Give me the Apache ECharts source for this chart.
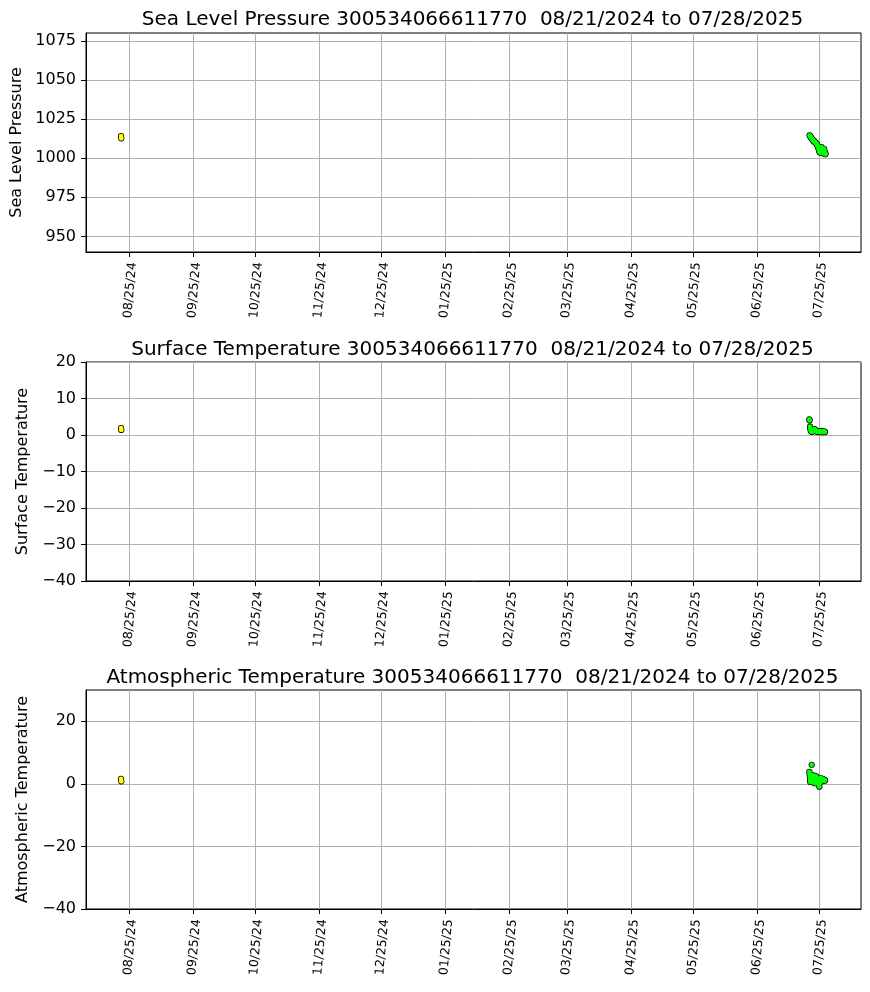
<!DOCTYPE html>
<html><head><meta charset="utf-8">
<script src="https://cdn.jsdelivr.net/npm/echarts@6/dist/echarts.min.js"></script>
<style>html,body{margin:0;padding:0;background:#fff}#c{width:870px;height:992px}</style>
</head><body><div id="c"></div>
<script>
const buoyId = '300534066611770';
const dateRange = '08/21/2024 to 07/28/2025';
const plotNames = ['Sea Level Pressure', 'Surface Temperature', 'Atmospheric Temperature'];
const xTickDates = ['2024-08-25','2024-09-25','2024-10-25','2024-11-25','2024-12-25','2025-01-25','2025-02-25','2025-03-25','2025-04-25','2025-05-25','2025-06-25','2025-07-25'];
const xRange = ['2024-08-04T01:00:00Z', '2025-08-14T04:00:00Z'];

const pressureTicks = [950, 975, 1000, 1025, 1050, 1075];
const surfaceTicks = [-40, -30, -20, -10, 0, 10, 20];
const atmTicks = [-40, -20, 0, 20];
const pressureRange = [940, 1080];
const surfaceRange = [-40, 20];
const atmRange = [-40, 30];

// first fix (yellow), 21 Aug 2024
const firstTimes = ['2024-08-21T00:00:00Z', '2024-08-21T03:00:00Z'];
const firstPressure = [1014.1, 1012.7];
const firstSurface = [1.9, 1.4];
const firstAtm = [1.6, 0.8];

// July 2025 fixes (green), day-of-month
const pressureDays = [20.25,20.5,20.75,21.0,21.25,21.5,21.75,22.0,22.25,22.5,22.75,23.0,23.25,23.5,23.75,24.0,24.25,24.5,24.75,25.0,25.125,25.25,25.375,25.5,25.625,25.75,25.875,26.0,26.125,26.25,26.375,26.5,26.625,26.75,26.875,27.0,27.125,27.25,27.375,27.5,27.625,27.75,27.875,28.0];
const pressureVals = [1014.6,1014.1,1013.6,1013.1,1012.6,1012.1,1011.7,1011.3,1011.0,1010.7,1010.4,1010.1,1009.8,1009.5,1009.0,1008.4,1007.6,1006.6,1005.6,1004.6,1004.0,1003.6,1003.9,1004.4,1005.2,1006.0,1006.6,1007.0,1006.4,1005.6,1004.8,1004.0,1003.4,1003.2,1003.8,1004.6,1005.4,1006.0,1005.3,1004.4,1003.4,1002.8,1002.5,1002.9];

const surfaceDays = [20.15,20.3,20.5,20.6,20.75,21.0,21.25,21.5,21.75,22.0,22.25,22.5,22.75,23.0,23.25,23.5,23.75,24.0,24.25,24.5,24.75,25.0,25.25,25.5,25.75,26.0,26.25,26.5,26.75,27.0,27.25,27.5,27.75];
const surfaceVals = [4.3,4.0,2.3,1.9,1.4,1.0,0.9,0.9,1.0,1.1,1.3,1.5,1.6,1.4,1.2,1.1,1.0,0.9,0.9,1.0,1.0,0.9,0.8,0.8,0.9,1.0,1.0,0.9,0.8,0.8,0.9,0.9,0.8];

const atmDays = [20.2,20.3,20.4,20.5,20.6,20.75,21.0,21.25,21.3,21.5,21.75,22.0,22.25,22.5,22.75,23.0,23.25,23.5,23.75,24.0,24.25,24.5,24.75,25.0,25.25,25.5,25.75,26.0,26.25,26.5,26.75,27.0,27.25,27.5,27.75];
const atmVals = [3.8,3.0,2.2,1.3,0.6,2.4,1.6,2.8,6.1,1.0,2.2,0.4,1.8,2.6,1.2,0.2,1.9,2.4,1.4,0.6,1.7,0.8,-0.4,-0.9,0.3,1.4,1.8,1.1,0.9,1.6,1.5,1.2,1.0,1.3,1.1];

const FONT = 'DejaVu Sans';
const DAY = 86400000;
const july0 = Date.UTC(2025, 6, 0);
const toTs = s => Date.parse(s);
const xTicks = xTickDates.map(s => Date.parse(s + 'T00:00:00Z'));
const fmtDate = v => { const d = new Date(v); const p = n => String(n).padStart(2, '0'); return p(d.getUTCMonth() + 1) + '/' + p(d.getUTCDate()) + '/' + p(d.getUTCFullYear() % 100); };
const fmtNum = v => v < 0 ? '\u2212' + Math.abs(v) : String(v);

const tops = [33, 362, 690];
const titleTops = [5, 335, 663];
const nameGaps = [58, 46, 46];
const yTicks = [pressureTicks, surfaceTicks, atmTicks];
const yRanges = [pressureRange, surfaceRange, atmRange];
const greenSets = [[pressureDays, pressureVals], [surfaceDays, surfaceVals], [atmDays, atmVals]];
const yellowSets = [firstPressure, firstSurface, firstAtm];

function markerPair(i, data, fill) {
  return [
    {type: 'scatter', xAxisIndex: i, yAxisIndex: i, symbolSize: 6.2, silent: true,
      itemStyle: {color: '#000', opacity: 1}, data},
    {type: 'scatter', xAxisIndex: i, yAxisIndex: i, symbolSize: 4.8, silent: true,
      itemStyle: {color: fill, opacity: 1}, data}
  ];
}

const grid = [], xAxis = [], yAxis = [], series = [], title = [];
for (let i = 0; i < 3; i++) {
  grid.push({left: 86, top: tops[i], width: 775, height: 219, show: true, borderColor: '#000', borderWidth: 1, outerBoundsMode: 'none'});
  title.push({text: plotNames[i] + ' ' + buoyId + '  ' + dateRange, left: 467.5, top: titleTops[i], textAlign: 'center',
    textStyle: {fontFamily: FONT, fontSize: 20, fontWeight: 'normal', color: '#000'}});
  xAxis.push({type: 'value', gridIndex: i, min: toTs(xRange[0]), max: toTs(xRange[1]),
    axisLine: {show: true, onZero: false, lineStyle: {color: '#000', width: 1}},
    axisTick: {show: true, length: 5, customValues: xTicks, lineStyle: {color: '#000'}},
    axisLabel: {customValues: xTicks, formatter: fmtDate, rotate: 85, margin: 10, fontFamily: FONT, fontSize: 12.5, color: '#000',
      verticalAlign: 'top', lineHeight: 7},
    splitLine: {show: true, lineStyle: {color: '#b0b0b0', width: 1}}});
  yAxis.push({type: 'value', gridIndex: i, min: yRanges[i][0], max: yRanges[i][1],
    name: plotNames[i], nameLocation: 'middle', nameGap: nameGaps[i],
    nameTextStyle: {fontFamily: FONT, fontSize: 16, color: '#000'},
    axisLine: {show: true, onZero: false, lineStyle: {color: '#000', width: 1}},
    axisTick: {show: true, length: 5, customValues: yTicks[i], lineStyle: {color: '#000'}},
    axisLabel: {customValues: yTicks[i], formatter: fmtNum, margin: 10, fontFamily: FONT, fontSize: 16, color: '#000'},
    splitLine: {show: true, lineStyle: {color: '#b0b0b0', width: 1}}});
  const [days, vals] = greenSets[i];
  series.push(...markerPair(i, days.map((d, k) => [july0 + d * DAY, vals[k]]), '#00ff00'));
  series.push(...markerPair(i, firstTimes.map((t, k) => [toTs(t), yellowSets[i][k]]), '#ffff00'));
}

const chart = echarts.init(document.getElementById('c'), null, {renderer: 'canvas'});
chart.setOption({backgroundColor: '#fff', animation: false, title, grid, xAxis, yAxis, series});
</script></body></html>
